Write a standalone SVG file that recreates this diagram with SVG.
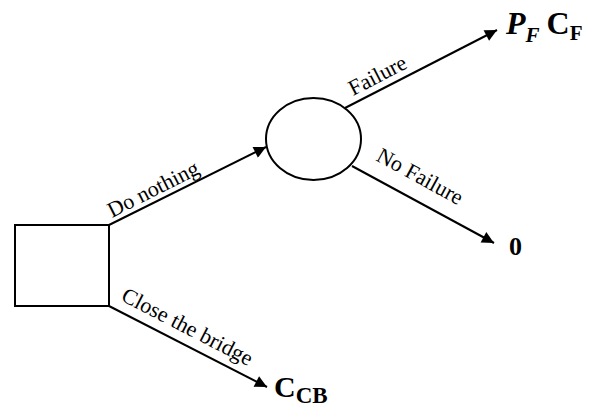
<svg xmlns="http://www.w3.org/2000/svg" width="601" height="409" viewBox="0 0 601 409">
<style>
.ln{stroke:#000;stroke-width:2;fill:none}
.nd{stroke:#000;stroke-width:2;fill:#fff}
.lb{font-family:"Liberation Serif",serif;font-size:22px;fill:#000}
.out{font-family:"Liberation Serif",serif;font-weight:bold;fill:#000}
</style>
<defs>
<marker id="ah" viewBox="0 0 10 10" refX="10" refY="5" markerWidth="6.5" markerHeight="6" orient="auto" markerUnits="strokeWidth">
<path d="M0,0 L10,5 L0,10 z" fill="#000"/>
</marker>
</defs>
<rect width="601" height="409" fill="#fff"/>
<g id="connectors">
<line class="ln" x1="109" y1="225" x2="266" y2="147" marker-end="url(#ah)"/>
<line class="ln" x1="345" y1="108" x2="497" y2="30" marker-end="url(#ah)"/>
<line class="ln" x1="352" y1="166" x2="494" y2="243" marker-end="url(#ah)"/>
<line class="ln" x1="109" y1="306" x2="267" y2="387" marker-end="url(#ah)"/>
<text class="lb" transform="translate(112,218) rotate(-26.9)">Do nothing</text>
<text class="lb" transform="translate(353,96) rotate(-27.2)">Failure</text>
<text class="lb" transform="translate(375,160) rotate(28.6)">No Failure</text>
<text class="lb" transform="translate(120,300) rotate(27.3)">Close the bridge</text>
</g>
<g id="decision">
<rect class="nd" x="15" y="225" width="94" height="81"/>
</g>
<g id="chance">
<ellipse class="nd" cx="313.5" cy="139" rx="47.5" ry="41"/>
</g>
<g id="out-failure">
<text class="out" x="506" y="34" font-size="32"><tspan font-style="italic">P</tspan><tspan font-style="italic" font-size="21" dy="8">F</tspan><tspan dy="-8" dx="7">C</tspan><tspan font-size="21" dy="6">F</tspan></text>
</g>
<g id="out-nofailure">
<text class="out" x="509" y="255" font-size="26">0</text>
</g>
<g id="out-close">
<text class="out" x="274" y="397" font-size="30">C<tspan font-size="23" dy="6">CB</tspan></text>
</g>
</svg>
